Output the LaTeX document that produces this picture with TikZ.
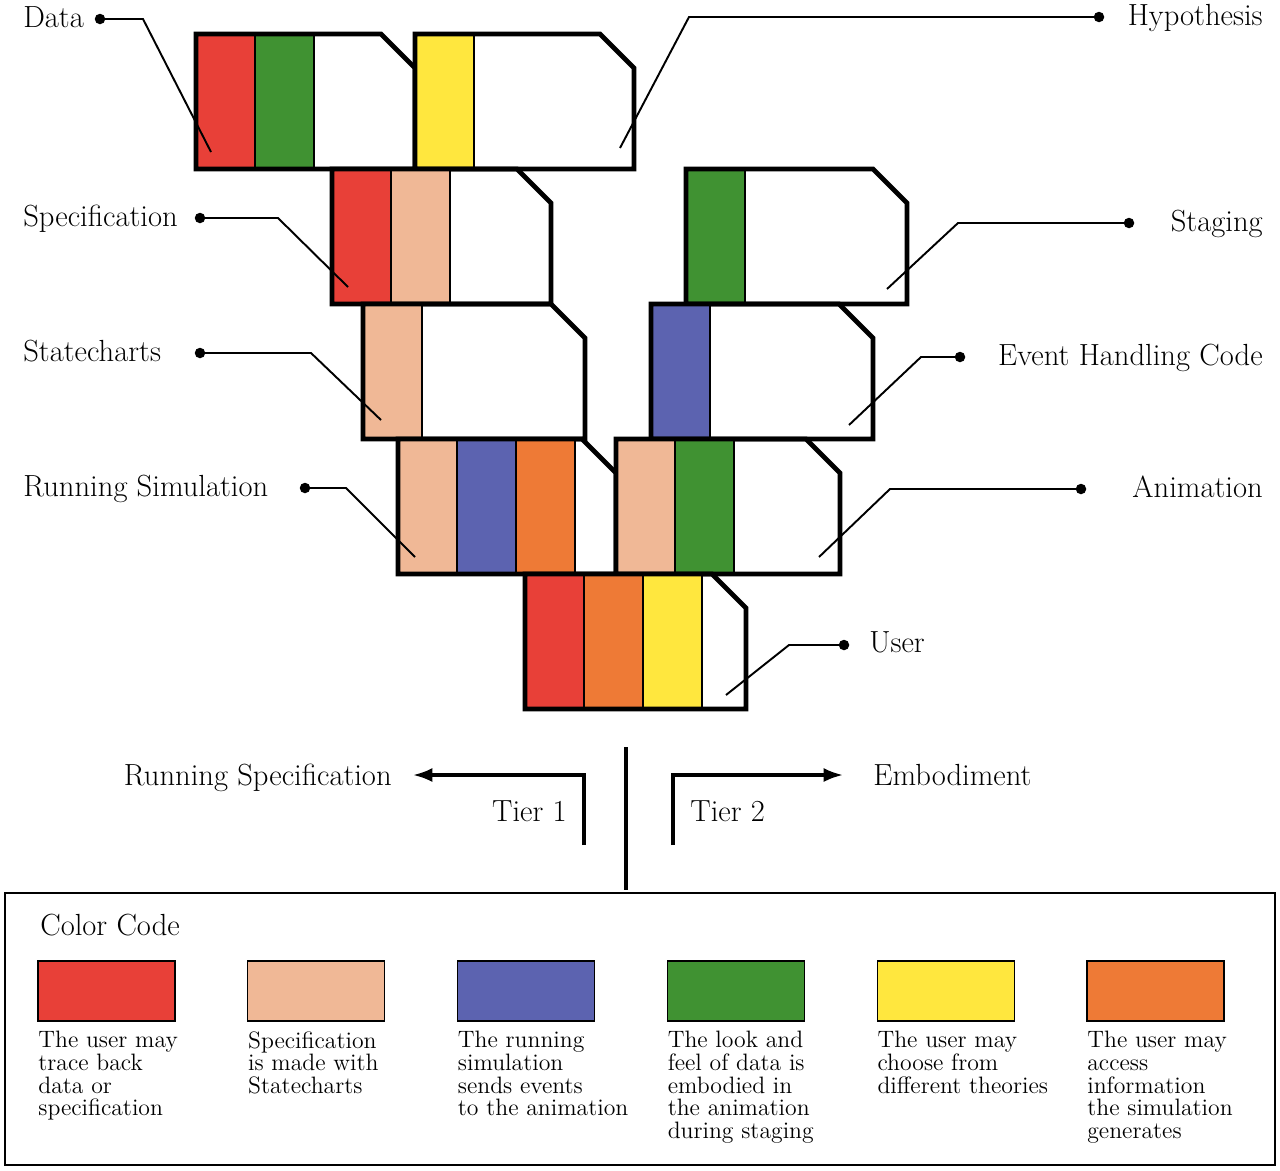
\documentclass[tikz,border=0pt]{standalone}
\usepackage{amsmath}
\usetikzlibrary{arrows.meta}

\definecolor{cRed}{RGB}{232,64,56}
\definecolor{cGreen}{RGB}{64,146,50}
\definecolor{cYellow}{RGB}{255,231,62}
\definecolor{cPeach}{RGB}{240,184,150}
\definecolor{cBlue}{RGB}{92,99,176}
\definecolor{cOrange}{RGB}{238,122,54}

\begin{document}
\begin{tikzpicture}[x=0.02cm,y=-0.02cm,>={Latex[length=11pt,width=8pt]},
	card/.style={line width=2.8pt},
	strip/.style={line width=0.7pt},
	leader/.style={line width=1.1pt},
	dot/.style={circle,fill=black,inner sep=0pt,minimum size=0.21cm},
	lbl/.style={inner sep=0pt,font=\fontsize{17.4}{20}\selectfont},
	note/.style={inner sep=0pt,align=left,font=\fontsize{13.5}{12.9}\selectfont},
	tier/.style={line width=1.8pt}]

\useasboundingbox (0,0) rectangle (1280,1170);

\def\cardH{135}
\def\cutW{34}
\def\stripW{59}

% cards with their colour strips
\foreach \bx/\by/\bw/\cols in {196/34/219/{cRed,cGreen},415/34/219/{cYellow},
	332/169/219/{cRed,cPeach},686/169/221/{cGreen},
	363/304/222/{cPeach},651/304/222/{cBlue},
	398/439/218/{cPeach,cBlue,cOrange},616/439/224/{cPeach,cGreen},
	525/574/221/{cRed,cOrange,cYellow}}{
	\foreach \col [count=\i] in \cols{
		\draw[strip,fill=\col] ({\bx+(\i-1)*\stripW},\by) rectangle ++(\stripW,\cardH);
	}
	\draw[card] (\bx,\by) -- ({\bx+\bw-\cutW},\by) -- ++(\cutW,\cutW)
		-- ({\bx+\bw},{\by+\cardH}) -- (\bx,{\by+\cardH}) -- cycle;
}

% labels on the left
\foreach \nm/\txt/\dx/\dy/\ex/\tx/\ty in {data/Data/100/19/143/211/152,
	spec/Specification/200/218/278/348/287,
	state/Statecharts/200/353/311/381/420,
	runsim/Running Simulation/305/488/346/415/557}{
	\node[lbl,anchor=base west] (\nm) at (23,{\dy+8}) {\txt};
	\node[dot] (\nm-dot) at (\dx,\dy) {};
	\coordinate (\nm-end) at (\tx,\ty);
	\draw[leader] (\nm-dot.center) -- (\ex,\dy) -- (\nm-end);
}

% labels on the right
\foreach \nm/\txt/\dx/\dy/\ex/\tx/\ty in {hyp/Hypothesis/1099/17/689/620/148,
	stag/Staging/1129/223/958/887/289,
	event/Event Handling Code/960/357/921/849/425,
	anim/Animation/1081/489/890/819/557}{
	\node[lbl,anchor=base east] (\nm) at (1263,{\dy+8}) {\txt};
	\node[dot] (\nm-dot) at (\dx,\dy) {};
	\coordinate (\nm-end) at (\tx,\ty);
	\draw[leader] (\nm-dot.center) -- (\ex,\dy) -- (\nm-end);
}

\node[lbl,anchor=base west] (user) at (869,652) {User};
\node[dot] (user-dot) at (844,645) {};
\coordinate (user-end) at (726,695);
\draw[leader] (user-dot.center) -- (789,645) -- (user-end);

% tiers
\draw[line width=2.4pt] (626,747) -- (626,890);

\coordinate (t1-foot) at (584,845);
\coordinate (t1-tip) at (413,775);
\draw[tier,->] (t1-foot) |- (t1-tip);
\node[lbl,anchor=base east] (runspec) at (392,785) {Running Specification};
\node[lbl,anchor=base east] (tier1) at (567,821) {Tier 1};

\coordinate (t2-foot) at (673,845);
\coordinate (t2-tip) at (843,775);
\draw[tier,->] (t2-foot) |- (t2-tip);
\node[lbl,anchor=base west] (embod) at (873,785) {Embodiment};
\node[lbl,anchor=base west] (tier2) at (690,821) {Tier 2};

% colour code
\draw[line width=1.3pt] (5,893) rectangle (1275,1165);
\node[lbl,anchor=base west] (colcode) at (40,935) {Color Code};

\foreach \col/\txt [count=\i] in {cRed/{The user may\\trace back\\data or\\specification},
	cPeach/{Specification\\is made with\\Statecharts},
	cBlue/{The running\\simulation\\sends events\\to the animation},
	cGreen/{The look and\\feel of data is\\embodied in\\the animation\\during staging},
	cYellow/{The user may\\choose from\\different theories},
	cOrange/{The user may\\access\\information\\the simulation\\generates}}{
	\draw[strip,fill=\col] ({38+(\i-1)*209.8},961) rectangle ++(137,60);
	\node[note,anchor=north west] (note-\i) at ({38+(\i-1)*209.8},1031) {\txt};
}

\end{tikzpicture}
\end{document}
